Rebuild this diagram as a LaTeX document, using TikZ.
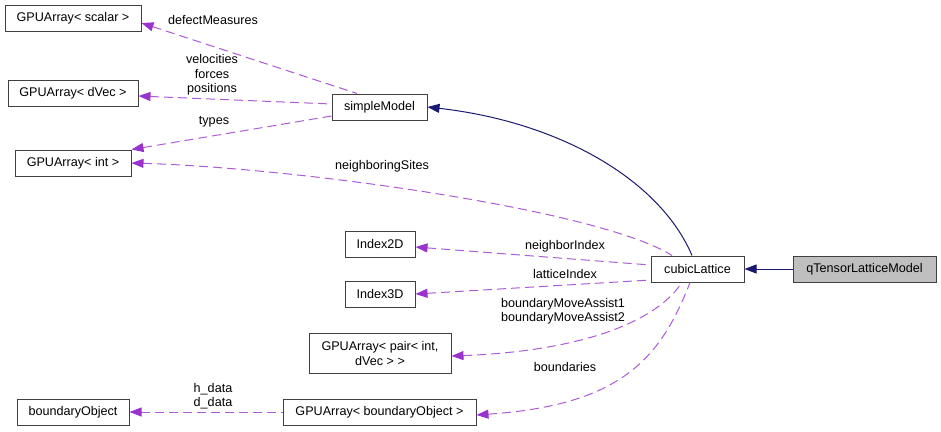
\documentclass[tikz,border=0pt]{standalone}
\usepackage{fontspec}
\setmainfont{Liberation Sans}
\usetikzlibrary{arrows.meta}

\definecolor{navy}{HTML}{191970}
\definecolor{orchid}{HTML}{9A32CD}

\begin{document}
\begin{tikzpicture}[x=1pt,y=-1pt,
  font=\fontsize{12.6}{15}\selectfont,
  cls/.style={draw=black!75,line width=1pt,minimum height=26pt,inner xsep=5pt,inner ysep=0pt,align=center},
  inherit/.style={navy,line width=1pt,{Triangle[length=12pt,width=9pt]}-},
  member/.style={orchid!80,line width=1pt,dash pattern=on 9pt off 5pt,{Triangle[length=12pt,width=9pt,fill=orchid,color=orchid]}-},
  lbl/.style={inner sep=0pt,align=center,text=black,font=\fontsize{12.6}{14.5}\selectfont}]
  \useasboundingbox (0,0) rectangle (941,431);
  % classes
  \node[cls,minimum width=136pt] (scalar) at (73,18) {GPUArray< scalar >};
  \node[cls,minimum width=130pt] (dvec) at (73,93) {GPUArray< dVec >};
  \node[cls,minimum width=116pt] (int) at (73,163) {GPUArray< int >};
  \node[cls,minimum width=95pt] (simple) at (379.5,107) {simpleModel};
  \node[cls,minimum width=70pt] (idxa) at (380,244) {Index2D};
  \node[cls,minimum width=70pt] (idxb) at (380,294) {Index3D};
  \node[cls,minimum width=142pt,minimum height=40pt] (pair) at (380,353) {GPUArray< pair< int,\\ dVec > >};
  \node[cls,minimum width=112pt] (bobj) at (73,412) {boundaryObject};
  \node[cls,minimum width=193pt] (barr) at (379.5,412) {GPUArray< boundaryObject >};
  \node[cls,minimum width=93pt] (cubic) at (697.5,269) {cubicLattice};
  \node[cls,minimum width=143pt,fill=black!25] (qtensor) at (864.5,269) {qTensorLatticeModel};
  % inheritance
  \draw[inherit] (cubic.east) -- (qtensor.west);
  \draw[inherit] (simple.east) .. controls (560,122) and (660,180) .. (cubic.north -| 692,0);
  % members
  \draw[member] (scalar.east) ++(0,5) -- (simple.north -| 357,0);
  \draw[member] (dvec.east) ++(0,3) -- ([yshift=3pt]simple.west);
  \draw[member] (int.north east) -- ([yshift=-9pt]simple.west);
  \draw[member] (int.east) .. controls (300,168) and (600,210) .. (cubic.north -| 672,0);
  \draw[member] (idxa.east) ++(0,3) -- ([yshift=4pt]cubic.west);
  \draw[member] (idxb.east) -- ([yshift=-11pt]cubic.west);
  \draw[member] (pair.east) ++(0,3) .. controls (560,352) and (650,330) .. (cubic.south -| 682,0);
  \draw[member] (barr.east) ++(0,3) .. controls (620,405) and (660,360) .. (cubic.south -| 690,0);
  \draw[member] (bobj.east) -- (barr.west);
  % member names
  \node[lbl] (defect) at (213,20) {defectMeasures};
  \node[lbl] (vel) at (212,75) {velocities\\forces\\positions};
  \node[lbl] (types) at (214,122) {types};
  \node[lbl] (sites) at (382,166) {neighboringSites};
  \node[lbl] (nidx) at (565,246) {neighborIndex};
  \node[lbl] (lidx) at (565,274) {latticeIndex};
  \node[lbl] (assist) at (563,311) {boundaryMoveAssist1\\boundaryMoveAssist2};
  \node[lbl] (bnds) at (565,367) {boundaries};
  \node[lbl] (hd) at (213,396) {h\_data\\d\_data};
\end{tikzpicture}
\end{document}
